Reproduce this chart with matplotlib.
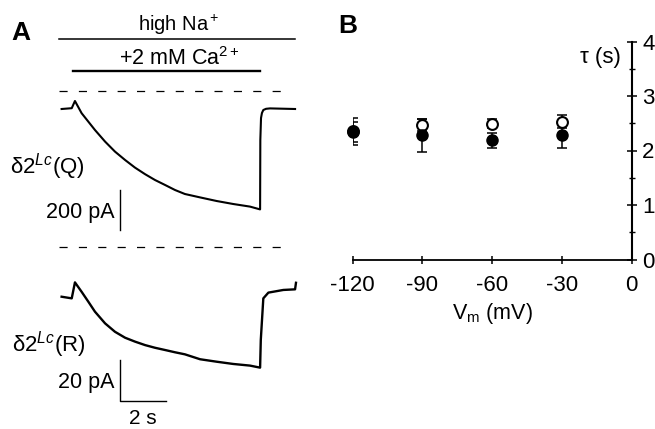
import matplotlib
matplotlib.use('Agg')
import matplotlib.pyplot as plt
from matplotlib.ticker import MultipleLocator

plt.rcParams['font.family'] = ['Liberation Sans', 'DejaVu Sans']
plt.rcParams['mathtext.fontset'] = 'custom'
plt.rcParams['mathtext.rm'] = 'Liberation Sans'
plt.rcParams['mathtext.it'] = 'Liberation Sans:italic'
plt.rcParams['mathtext.sf'] = 'Liberation Sans'

# ---- panel A traces (time in s, current in pA) ----
q_time = [0.07, 0.51, 0.65, 0.94, 1.23, 1.52, 1.96, 2.39, 2.83, 3.26, 3.70,
          4.13, 4.57, 5.00, 5.43, 6.09, 6.81, 7.53, 8.26, 8.70,
          8.71, 8.74, 8.78, 8.84, 8.96, 9.13, 10.22]
q_current = [-90, -86, -50, -111, -153, -195, -253, -303, -345, -383, -416,
             -445, -470, -495, -515, -532, -550, -565, -578, -592,
             -245, -135, -110, -95, -89, -87, -90]

r_time = [0.07, 0.51, 0.65, 0.94, 1.23, 1.52, 1.96, 2.39, 2.83, 3.26, 3.70,
          4.13, 4.57, 5.00, 5.43, 6.09, 6.81, 7.53, 8.26, 8.70,
          8.73, 8.84, 9.06, 9.71, 10.22, 10.26]
r_current = [-24.4, -25.2, -17.4, -22.0, -26.8, -31.7, -37.4, -41.5, -44.4,
             -46.3, -48.0, -49.3, -50.4, -51.5, -52.5, -54.9, -56.1, -57.2,
             -58.0, -59.0, -45.5, -25.2, -22.4, -21.1, -20.8, -17.6]

na_on, na_off = -0.03, 10.22
ca_on, ca_off = 0.55, 8.70
zero_end = 9.7

# ---- panel B ----
vm = [-120, -90, -60, -30]
tau_filled = [2.34, 2.28, 2.19, 2.28]
err_filled = [0.19, 0.30, 0.14, 0.24]
tau_open = [2.35, 2.47, 2.49, 2.53]
err_open = [0.24, 0.11, 0.08, 0.12]

fig = plt.figure(figsize=(6.55, 4.29), dpi=100)

# x px = 60 + 23*t on the left panel
t_left, t_right = (0 - 60) / 23, (330 - 60) / 23

axq = fig.add_axes([0, 1 - 235 / 429, 330 / 655, 235 / 429])
axq.set_xlim(t_left, t_right)
axq.set_ylim((91 - 235) / 0.2, 91 / 0.2)
axq.axis('off')

axr = fig.add_axes([0, 0, 330 / 655, 194 / 429])
axr.set_xlim(t_left, t_right)
axr.set_ylim((246.7 - 429) / 2.05, (246.7 - 235) / 2.05)
axr.axis('off')

axq.plot(q_time, q_current, color='black', lw=1.5)
axr.plot(r_time, r_current, color='black', lw=1.7)

for ax in (axq, axr):
    ax.plot([na_on, zero_end], [0, 0], color='black', lw=0.9,
            linestyle=(0, (6.5, 9)))

# solution bars
axq.plot([na_on, na_off], [260, 260], color='black', lw=1.1)
axq.plot([ca_on, ca_off], [100, 100], color='black', lw=1.7)
axq.text((na_on + na_off) / 2 + 0.05, 301, 'high Na$^+$', ha='center',
         va='baseline', fontsize=14.5)
axq.text((na_on + na_off) / 2 + 0.1, 130, '+2 mM Ca$^{2+}$', ha='center',
         va='baseline', fontsize=15.5)
axq.text(-2.1, 255, 'A', fontsize=19, fontweight='bold', va='baseline')

axq.text(-2.17, -411, r'δ2$^{Lc}$(Q)', fontsize=16, va='baseline')
axr.text(-2.1, -51.2, r'δ2$^{Lc}$(R)', fontsize=16, va='baseline')

# scale bars
axq.plot([2.61, 2.61], [-495, -695], color='black', lw=1.0)
axq.text(2.39, -636, '200 pA', ha='right', va='baseline', fontsize=15.5)
axr.plot([2.61, 2.61, 4.61], [-55.3, -75.3, -75.3], color='black', lw=1.0)
axr.text(2.39, -69.1, '20 pA', ha='right', va='baseline', fontsize=15.5)
axr.text(3.61, -86.5, '2 s', ha='center', va='baseline', fontsize=15)

# ---- panel B ----
axb = fig.add_axes([352.7 / 655, 1 - 259.5 / 429, 279 / 655, 218 / 429])
axb.set_xlim(-120, 0)
axb.set_ylim(0, 4)
axb.errorbar(vm, tau_filled, yerr=err_filled, fmt='none', ecolor='black',
             elinewidth=1.1, capsize=3.8, capthick=1.1, zorder=2)
axb.errorbar(vm, tau_open, yerr=err_open, fmt='none', ecolor='black',
             elinewidth=1.1, capsize=3.8, capthick=1.1, zorder=2)
axb.plot(vm, tau_open, 'o', ms=7.8, mfc='white', mec='black', mew=1.5,
         zorder=3, clip_on=False)
axb.plot(vm, tau_filled, 'o', ms=8.0, mfc='black', mec='black', zorder=4,
         clip_on=False)

axb.spines['top'].set_visible(False)
axb.spines['left'].set_visible(False)
axb.spines['right'].set_linewidth(1.5)
axb.spines['bottom'].set_linewidth(1.3)
axb.yaxis.tick_right()
axb.set_xticks([-120, -90, -60, -30, 0])
axb.set_xticklabels(['-120', '-90', '-60', '-30', '0'])
axb.set_yticks([0, 1, 2, 3, 4])
axb.yaxis.set_minor_locator(MultipleLocator(0.5))
axb.tick_params(axis='x', direction='inout', length=5.8, width=1.1,
                labelsize=16, pad=8)
axb.tick_params(axis='y', which='major', direction='inout', length=7.2,
                width=1.1, labelsize=16, pad=4)
axb.tick_params(axis='y', which='minor', direction='inout', length=4.5,
                width=1.0)
axb.set_xlabel(r'V$_\mathrm{m}$ (mV)', fontsize=15.5, labelpad=4)
axb.text(-4.6, 3.6, r'τ (s)', ha='right', va='baseline', fontsize=16)
axb.text(-126, 4.15, 'B', fontsize=19, fontweight='bold', va='baseline')

fig.savefig('out.png', dpi=100)
